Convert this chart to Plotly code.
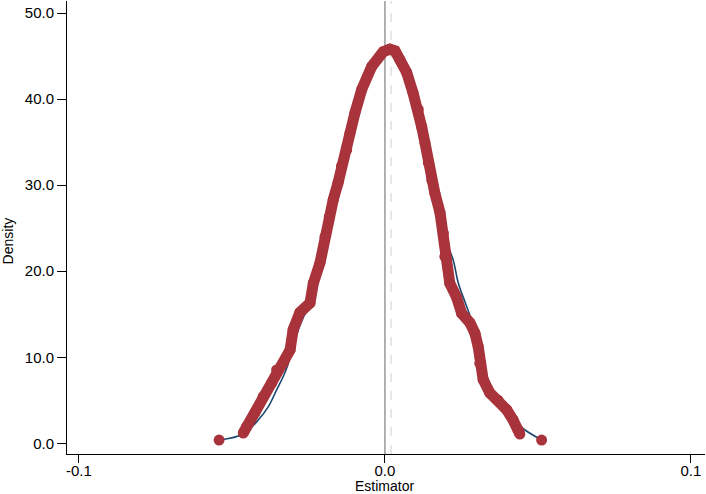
import plotly.graph_objects as go

# ---- data ----
est_x = [-0.0542, -0.0463, -0.0452, -0.0425, -0.0398, -0.0370, -0.0354, -0.0332, -0.0310,
         -0.0300, -0.0278, -0.0245, -0.0234, -0.0212, -0.0196, -0.0182, -0.0169, -0.0153,
         -0.0142, -0.0125, -0.0114, -0.0098, -0.0076, -0.0043, -0.0006, 0.0016, 0.0033,
         0.0049, 0.0071, 0.0092, 0.0109, 0.0120, 0.0131, 0.0142, 0.0153, 0.0163, 0.0180,
         0.0191, 0.0196, 0.0212, 0.0234, 0.0251, 0.0278, 0.0294, 0.0305, 0.0310, 0.0321,
         0.0343, 0.0370, 0.0398, 0.0419, 0.0436, 0.0441, 0.0512]
est_y = [0.38, 1.2, 1.93, 3.52, 5.42, 7.01, 8.52, 9.35, 10.85,
         13.2, 15.2, 16.3, 18.6, 21.0, 24.0, 26.3, 28.3, 30.3,
         32.2, 34.1, 36.1, 38.4, 41.1, 43.8, 45.5, 45.8, 45.6,
         44.6, 43.1, 40.7, 38.8, 36.8, 34.9, 32.6, 30.6, 29.1, 26.8,
         24.4, 21.7, 18.6, 17.0, 15.1, 14.0, 12.8, 11.2, 9.3, 7.4,
         5.85, 5.0, 3.9, 2.7, 1.55, 1.08, 0.38]

ref_x = [-0.0542, -0.0463, -0.0414, -0.0381, -0.0354, -0.0327, -0.0305, -0.0283, -0.0266,
         -0.0255, -0.0234, -0.0212, -0.0196, -0.0169, -0.0142, -0.0114, -0.0076, -0.0043,
         0.0, 0.0033, 0.0071, 0.0109, 0.0142, 0.0163, 0.0191, 0.0223, 0.0240, 0.0265,
         0.0294, 0.0317, 0.0343, 0.0376, 0.0419, 0.0458, 0.0512]
ref_y = [0.38, 1.08, 2.71, 4.26, 6.2, 8.2, 10.5, 13.2, 14.7,
         15.5, 18.6, 21.0, 24.0, 28.3, 32.2, 36.1, 41.1, 43.8,
         45.5, 45.5, 43.1, 38.8, 32.6, 29.1, 24.4, 21.3, 18.6, 16.1,
         13.2, 9.7, 6.9, 4.7, 2.7, 1.55, 0.38]

x_ticks = [-0.1, 0.0, 0.1]
x_tick_labels = ["-0.1", "0.0", "0.1"]
y_ticks = [0, 10, 20, 30, 40, 50]
y_tick_labels = ["0.0", "10.0", "20.0", "30.0", "40.0", "50.0"]
zero_line_x = 0.0
mean_line_x = 0.002
x_title = "Estimator"
y_title = "Density"

FONT = "Liberation Sans, Arial, sans-serif"
RED = "#a8333b"
BLUE = "#1a476f"

fig = go.Figure()
fig.add_trace(go.Scatter(x=ref_x, y=ref_y, mode="lines",
                         line=dict(color=BLUE, width=1.6, shape="spline"),
                         hoverinfo="skip", showlegend=False))
# dense band of estimates (the isolated end points are not joined)
fig.add_trace(go.Scatter(x=est_x[1:-1], y=est_y[1:-1], mode="lines",
                         line=dict(color=RED, width=11),
                         hoverinfo="skip", showlegend=False))
fig.add_trace(go.Scatter(x=est_x, y=est_y, mode="markers",
                         marker=dict(color=RED, size=11),
                         showlegend=False))

fig.add_shape(type="line", x0=zero_line_x, x1=zero_line_x, y0=0, y1=1,
              xref="x", yref="paper", layer="below",
              line=dict(color="#999999", width=1.5))
fig.add_shape(type="line", x0=mean_line_x, x1=mean_line_x, y0=0, y1=1,
              xref="x", yref="paper", layer="below",
              line=dict(color="#d9d9d9", width=1.2, dash="dash"))

fig.add_annotation(text=x_title, xref="paper", yref="paper", x=0.497, y=-0.0706,
                   showarrow=False, xanchor="center", yanchor="middle", borderpad=0,
                   font=dict(family=FONT, size=14, color="black"))
fig.add_annotation(text=y_title, xref="paper", yref="paper", x=-0.092, y=0.47,
                   showarrow=False, xanchor="center", yanchor="middle", textangle=-90,
                   font=dict(family=FONT, size=14, color="black"))

fig.update_layout(
    width=706, height=494,
    margin=dict(l=67, r=1, t=1, b=40),
    paper_bgcolor="white", plot_bgcolor="white",
    font=dict(family=FONT, size=15, color="black"),
    xaxis=dict(range=[-0.1039, 0.1046], tickvals=x_ticks, ticktext=x_tick_labels,
               showgrid=False, zeroline=False, showline=True, linecolor="black",
               linewidth=1, ticks="outside", ticklen=8, tickcolor="black",
               ticklabelstandoff=-5, automargin=False),
    yaxis=dict(range=[-1.24, 51.4], tickvals=y_ticks, ticktext=y_tick_labels,
               showgrid=False, zeroline=False, showline=True, linecolor="black",
               linewidth=1, ticks="outside", ticklen=9, tickcolor="black",
               automargin=False),
)

fig.write_html("out.html", config={"displayModeBar": False},
               post_script="document.body.style.margin='0';document.body.style.overflow='hidden';")
